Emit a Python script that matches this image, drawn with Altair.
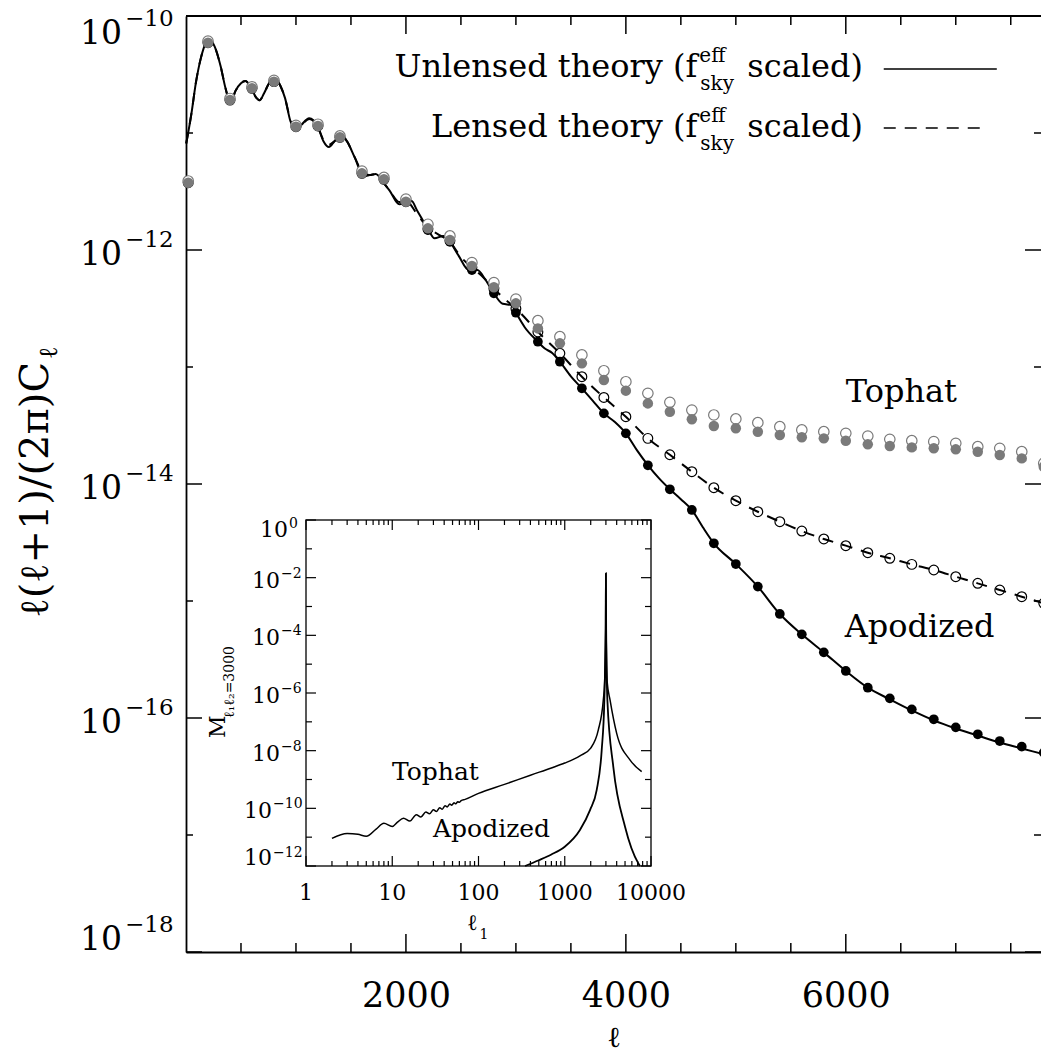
import altair as alt
import pandas as pd

FONT = "DejaVu Serif"
GRAY = "#7a7a7a"

# ---------------- main panel data (log10 of l(l+1)C_l/2pi) ----------------
theory_ell = [2, 50, 90, 135, 180, 215, 260, 315, 360, 405, 450, 500, 540, 590, 640, 670, 710, 760,
              815, 860, 900, 950, 1000, 1050, 1120, 1200, 1250, 1300, 1350, 1410, 1470, 1530, 1620,
              1670, 1725, 1800, 1850, 1940, 2000, 2050, 2100, 2200, 2260, 2340, 2400, 2480, 2570,
              2650, 2720, 2800, 2880, 2960, 3000, 3080, 3200, 3260, 3330, 3400, 3500, 3600, 3700,
              3800, 3900, 4000, 4100, 4200, 4300, 4400, 4500, 4600, 4700, 4800, 5000, 5200, 5400,
              5600, 5800, 6000, 6200, 6400, 6600, 6800, 7000, 7200, 7400, 7600, 7800]
unlensed_log = [-11.09, -10.83, -10.57, -10.36, -10.23, -10.20, -10.26, -10.43, -10.62, -10.745,
                -10.64, -10.575, -10.556, -10.61, -10.70, -10.72, -10.66, -10.57, -10.54, -10.60,
                -10.70, -10.90, -10.98, -10.93, -10.874, -10.95, -11.07, -11.12, -11.07, -11.017,
                -11.08, -11.20, -11.37, -11.36, -11.35, -11.43, -11.49, -11.61, -11.59, -11.58,
                -11.66, -11.82, -11.90, -11.88, -11.93, -12.05, -12.17, -12.17, -12.25, -12.37,
                -12.46, -12.47, -12.536, -12.66, -12.784, -12.84, -12.88, -12.955, -13.08, -13.182,
                -13.29, -13.396, -13.47, -13.567, -13.71, -13.838, -13.95, -14.045, -14.13, -14.222,
                -14.37, -14.507, -14.684, -14.877, -15.111, -15.285, -15.439, -15.598, -15.741,
                -15.84, -15.935, -16.02, -16.09, -16.15, -16.21, -16.26, -16.31]

lensed_ell = [2, 50, 90, 135, 180, 215, 260, 315, 360, 405, 450, 500, 540, 590, 640, 670, 710, 760,
              815, 860, 900, 950, 1000, 1050, 1120, 1200, 1250, 1300, 1350, 1410, 1470, 1530, 1620,
              1670, 1725, 1800, 1850, 1940, 2000, 2100, 2200, 2300, 2400, 2500, 2600, 2700, 2800,
              2900, 3000, 3200, 3400, 3600, 3800, 4000, 4200, 4400, 4600, 4800, 5000, 5200, 5400,
              5600, 5800, 6000, 6200, 6400, 6600, 6800, 7000, 7200, 7400, 7600, 7800]
lensed_log = [-11.09, -10.83, -10.57, -10.36, -10.23, -10.20, -10.26, -10.43, -10.62, -10.74,
              -10.64, -10.575, -10.556, -10.61, -10.70, -10.72, -10.66, -10.57, -10.54, -10.60,
              -10.70, -10.89, -10.96, -10.93, -10.88, -10.95, -11.06, -11.10, -11.07, -11.02,
              -11.08, -11.20, -11.35, -11.36, -11.35, -11.43, -11.49, -11.59, -11.58, -11.69,
              -11.81, -11.87, -11.93, -12.06, -12.15, -12.23, -12.33, -12.42, -12.50, -12.70,
              -12.883, -13.083, -13.26, -13.425, -13.61, -13.75, -13.895, -14.032, -14.143,
              -14.237, -14.322, -14.402, -14.470, -14.527, -14.587, -14.635, -14.687, -14.735,
              -14.792, -14.849, -14.906, -14.963, -15.02]

bin_ell = [20, 200, 400, 600, 800, 1000, 1200, 1400, 1600, 1800, 2000, 2200, 2400, 2600, 2800,
           3000, 3200, 3400, 3600, 3800, 4000, 4200, 4400, 4600, 4800, 5000, 5200, 5400, 5600,
           5800, 6000, 6200, 6400, 6600, 6800, 7000, 7200, 7400, 7600, 7800]
apod_unlensed_log = [-11.425, -10.228, -10.718, -10.618, -10.561, -10.946, -10.940, -11.037, -11.345,
                     -11.396, -11.587, -11.83, -11.93, -12.171, -12.37, -12.536, -12.784, -12.955,
                     -13.182, -13.396, -13.567, -13.84, -14.045, -14.222, -14.507, -14.684, -14.877,
                     -15.111, -15.285, -15.439, -15.598, -15.741, -15.832, -15.926, -16.011, -16.080,
                     -16.139, -16.197, -16.245, -16.296]
apod_lensed_log = [-11.425, -10.228, -10.718, -10.618, -10.561, -10.946, -10.940, -11.037, -11.345,
                   -11.396, -11.587, -11.82, -11.92, -12.15, -12.33, -12.50, -12.70, -12.883, -13.083,
                   -13.26, -13.425, -13.61, -13.75, -13.895, -14.032, -14.143, -14.237, -14.322,
                   -14.402, -14.470, -14.527, -14.587, -14.635, -14.687, -14.735, -14.792, -14.849,
                   -14.906, -14.963, -15.02]
tophat_unlensed_log = [-11.425, -10.228, -10.718, -10.618, -10.561, -10.946, -10.940, -11.037, -11.345,
                       -11.396, -11.587, -11.815, -11.915, -12.137, -12.319, -12.456, -12.670, -12.798,
                       -12.969, -13.111, -13.202, -13.311, -13.382, -13.447, -13.504, -13.524, -13.553,
                       -13.581, -13.601, -13.610, -13.630, -13.661, -13.675, -13.687, -13.695, -13.704,
                       -13.724, -13.752, -13.781, -13.852]
tophat_lensed_log = [-11.41, -10.215, -10.705, -10.605, -10.55, -10.935, -10.925, -11.025, -11.325,
                     -11.38, -11.565, -11.78, -11.88, -12.108, -12.279, -12.42, -12.604, -12.741,
                     -12.897, -13.032, -13.126, -13.225, -13.302, -13.368, -13.41, -13.444, -13.476,
                     -13.510, -13.538, -13.553, -13.567, -13.590, -13.618, -13.630, -13.638, -13.652,
                     -13.681, -13.695, -13.724, -13.823]

# ---------------- inset data (log10 of M_{l1, l2=3000}) ----------------
inset_tophat_l1 = [2, 3, 4, 5, 6.5, 8, 10, 11.5, 13.5, 16, 19, 21.5, 24.5, 27, 30, 32.5, 35.5, 38, 41,
                   43.5, 46.5, 49, 52, 54.5, 57.5, 60, 63, 70, 100, 200, 400, 700, 1000, 1500, 2000,
                   2450, 2800, 2900, 2980, 3000, 3020, 3100, 3350, 4000, 5700, 7800]
inset_tophat_log = [-11.04, -10.87, -10.90, -10.97, -10.72, -10.52, -10.63, -10.48, -10.34, -10.44,
                    -10.22, -10.30, -10.13, -10.19, -10.05, -10.11, -9.98, -10.03, -9.91, -9.95,
                    -9.85, -9.89, -9.81, -9.84, -9.77, -9.79, -9.73, -9.69, -9.48, -9.17, -8.85,
                    -8.60, -8.43, -8.18, -7.91, -7.28, -6.24, -5.6, -3.8, -1.85, -3.8, -5.6, -6.24,
                    -7.40, -8.32, -8.73]
inset_apod_l1 = [347, 500, 700, 1000, 1500, 1963, 2345, 2682, 2878, 2980, 3000, 3020, 3120, 3656,
                 5000, 7130, 7450]
inset_apod_log = [-12.0, -11.8, -11.6, -11.33, -10.75, -10.06, -9.37, -7.98, -6.24, -3.8, -1.85,
                  -3.8, -6.24, -8.56, -10.64, -11.91, -12.0]

# ---------------- ticks / labels ----------------
main_x_ticks = [2000, 4000, 6000]
main_x_minor = [500, 1000, 1500, 2500, 3000, 3500, 4500, 5000, 5500, 6500, 7000, 7500]
main_y_label_exp = [-18, -16, -14, -12, -10]
main_y_minor_exp = [-17, -15, -13, -11]
inset_x_ticks = [1, 10, 100, 1000, 10000]
inset_x_minor = [2, 3, 4, 5, 6, 7, 8, 9, 20, 30, 40, 50, 60, 70, 80, 90, 200, 300, 400, 500, 600,
                 700, 800, 900, 2000, 3000, 4000, 5000, 6000, 7000, 8000, 9000]
inset_y_label_exp = [-12, -10, -8, -6, -4, -2, 0]
inset_y_minor_exp = [-11, -9, -7, -5, -3, -1]

legend_rows = ["Unlensed theory (f", "Lensed theory (f"]


def p10(vals):
    return [10.0 ** v for v in vals]


def expstr(e):
    return ("\u2212" + str(-e)) if e < 0 else str(e)


# ---------------- scales / axes ----------------
XMAX = 7775
xs = alt.Scale(domain=[0, XMAX], nice=False, zero=False)
ys = alt.Scale(type="log", domain=[1e-18, 1e-10], nice=False)
x_axis = alt.Axis(values=main_x_ticks, format="d", labelFont=FONT, labelFontSize=35,
                  labelColor="black", labelPadding=26, labelFlush=False, ticks=False, grid=False,
                  domainColor="black", domainWidth=1.8, title="ℓ", titleFont=FONT,
                  titleFontSize=29, titleFontWeight="normal", titleColor="black",
                  titleBaseline="alphabetic", titleY=94)
y_axis = alt.Axis(labels=False, ticks=False, grid=False, domainColor="black", domainWidth=1.8,
                  title=None)


def MX(f):
    return alt.X(f, type="quantitative", scale=xs, axis=x_axis)


def MY(f):
    return alt.Y(f, type="quantitative", scale=ys, axis=y_axis)


def MXD(v):
    return alt.XDatum(v, type="quantitative", scale=xs, axis=x_axis)


def MYD(v):
    return alt.YDatum(v, type="quantitative", scale=ys, axis=y_axis)


xs_in = alt.Scale(type="log", domain=[1, 10000], range=[120, 465], nice=False)
ys_in = alt.Scale(type="log", domain=[1e-12, 1], range=[850, 504], nice=False)


def IX(f):
    return alt.X(f, type="quantitative", scale=xs_in, axis=None)


def IY(f):
    return alt.Y(f, type="quantitative", scale=ys_in, axis=None)


def IXD(v):
    return alt.XDatum(v, type="quantitative", scale=xs_in, axis=None)


def IYD(v):
    return alt.YDatum(v, type="quantitative", scale=ys_in, axis=None)


# ---------------- dataframes ----------------
unl_df = pd.DataFrame({"l": theory_ell, "v": p10(unlensed_log)})
len_df = pd.DataFrame({"l": lensed_ell, "v": p10(lensed_log)})
pts = pd.DataFrame({"l": bin_ell, "au": p10(apod_unlensed_log), "al": p10(apod_lensed_log),
                    "tu": p10(tophat_unlensed_log), "tl": p10(tophat_lensed_log)})

layers = []


def vticks(vals, size, at, off, X, YD, w=1.5):
    return alt.Chart(pd.DataFrame({"l": vals})).mark_tick(
        orient="vertical", size=size, thickness=w, yOffset=off, color="black", opacity=1
    ).encode(x=X("l"), y=YD(at))


def hticks(vals, size, at, off, XD, Y, w=1.5):
    return alt.Chart(pd.DataFrame({"v": vals})).mark_tick(
        orient="horizontal", size=size, thickness=w, xOffset=off, color="black", opacity=1
    ).encode(x=XD(at), y=Y("v"))


layers += [
    vticks(main_x_ticks, 18, 1e-18, -9, MX, MYD),
    vticks(main_x_minor, 9, 1e-18, -4.5, MX, MYD),
    vticks(main_x_ticks, 18, 1e-10, 9, MX, MYD),
    vticks(main_x_minor, 9, 1e-10, 4.5, MX, MYD),
    hticks(p10(main_y_label_exp), 16, 0, 8, MXD, MY),
    hticks(p10(main_y_minor_exp), 7, 0, 3.5, MXD, MY),
    hticks(p10(main_y_label_exp), 16, XMAX, -8, MXD, MY),
    hticks(p10(main_y_minor_exp), 7, XMAX, -3.5, MXD, MY),
]
layers.append(
    alt.Chart(pd.DataFrame({"l": [0], "l2": [XMAX], "v": [1e-10]})).mark_rule(
        color="black", strokeWidth=1.8).encode(x=MX("l"), x2="l2", y=MY("v"))
)

layers.append(alt.Chart(pts).mark_circle(size=95, fill="white", stroke="black", strokeWidth=1.2,
                                         opacity=1).encode(x=MX("l"), y=MY("al")))
layers.append(alt.Chart(unl_df).mark_line(color="black", strokeWidth=2, interpolate="monotone").encode(
    x=MX("l"), y=MY("v")))
layers.append(alt.Chart(len_df).mark_line(color="black", strokeWidth=2, strokeDash=[11, 9],
                                          interpolate="monotone").encode(x=MX("l"), y=MY("v")))
layers.append(alt.Chart(pts).mark_circle(size=95, color="black", opacity=1).encode(
    x=MX("l"), y=MY("au")))
layers.append(alt.Chart(pts).mark_circle(size=110, fill="white", stroke=GRAY, strokeWidth=1.2,
                                         opacity=1).encode(x=MX("l"), y=MY("tl")))
layers.append(alt.Chart(pts).mark_circle(size=110, color=GRAY, opacity=1).encode(
    x=MX("l"), y=MY("tu")))

layers.append(alt.Chart(pd.DataFrame({"l": [6345, 7373], "v": [3.52e-11, 3.52e-11]})).mark_line(
    color="black", strokeWidth=1.6).encode(x=MX("l"), y=MY("v")))
layers.append(alt.Chart(pd.DataFrame({"l": [6345, 7280], "v": [1.104e-11, 1.104e-11]})).mark_line(
    color="black", strokeWidth=1.6, strokeDash=[12, 9]).encode(x=MX("l"), y=MY("v")))


def mtext(df, size, align, dx=0, dy=0, angle=0, X=MX, Y=MY):
    return alt.Chart(df).mark_text(font=FONT, fontSize=size, align=align, baseline="alphabetic",
                                   dx=dx, dy=dy, angle=angle, color="black").encode(
        x=X("l"), y=Y("v"), text="t:N")


leg_df = pd.DataFrame({"l": [4650, 4650], "v": [3.0e-11, 9.25e-12], "t": legend_rows})
sup_df = pd.DataFrame({"l": [4650, 4650], "v": [3.0e-11, 9.25e-12], "t": ["eff", "eff"]})
sub_df = pd.DataFrame({"l": [4650, 4650], "v": [3.0e-11, 9.25e-12], "t": ["sky", "sky"]})
end_df = pd.DataFrame({"l": [4650, 4650], "v": [3.0e-11, 9.25e-12], "t": ["scaled)", "scaled)"]})
layers += [
    mtext(leg_df, 32, "right"),
    mtext(sup_df, 20, "left", dx=2, dy=-15),
    mtext(sub_df, 20, "left", dx=3, dy=13),
    mtext(end_df, 32, "left", dx=50),
]
layers.append(mtext(pd.DataFrame({"l": [6000, 5990], "v": [5.02e-14, 4.92e-16],
                                  "t": ["Tophat", "Apodized"]}), 32, "left"))

mid = [e for e in main_y_label_exp if e not in (-18, -10)]
for exps, d10, dex in [(mid, 15, -3), ([-10], 28, 10), ([-18], -2, -20)]:
    layers.append(mtext(pd.DataFrame({"l": [0] * len(exps), "v": p10(exps), "t": ["10"] * len(exps)}),
                        33, "right", dx=-64, dy=d10))
    layers.append(mtext(pd.DataFrame({"l": [0] * len(exps), "v": p10(exps),
                                      "t": [expstr(e) for e in exps]}), 23, "left", dx=-61, dy=dex))

layers.append(mtext(pd.DataFrame({"l": [0], "v": [1e-14], "t": ["ℓ(ℓ+1)/(2π)C"]}), 40, "right",
                    dx=122, dy=-138, angle=270))
layers.append(mtext(pd.DataFrame({"l": [0], "v": [1e-14], "t": ["ℓ"]}), 26, "left",
                    dx=125, dy=-129, angle=270))

main = alt.layer(*layers)

# ---------------- inset ----------------
ins = []
ins.append(alt.Chart(pd.DataFrame({"a": [1], "b": [10000], "c": [1e-12], "d": [1]})).mark_rect(
    fill="white", stroke="#222222", strokeWidth=1.5).encode(x=IX("a"), x2="b", y=IY("c"), y2="d"))
ins += [
    vticks(inset_x_ticks, 10, 1e-12, -5, IX, IYD, 1.2),
    vticks(inset_x_minor, 5, 1e-12, -2.5, IX, IYD, 1.2),
    vticks(inset_x_ticks, 10, 1, 5, IX, IYD, 1.2),
    vticks(inset_x_minor, 5, 1, 2.5, IX, IYD, 1.2),
    hticks(p10(inset_y_label_exp), 10, 1, 5, IXD, IY, 1.2),
    hticks(p10(inset_y_minor_exp), 6, 1, 3, IXD, IY, 1.2),
    hticks(p10(inset_y_label_exp), 10, 10000, -5, IXD, IY, 1.2),
    hticks(p10(inset_y_minor_exp), 6, 10000, -3, IXD, IY, 1.2),
]
ins.append(alt.Chart(pd.DataFrame({"l": inset_tophat_l1, "v": p10(inset_tophat_log)})).mark_line(
    color="black", strokeWidth=1.5, interpolate="monotone").encode(x=IX("l"), y=IY("v")))
ins.append(alt.Chart(pd.DataFrame({"l": inset_apod_l1, "v": p10(inset_apod_log)})).mark_line(
    color="black", strokeWidth=1.8, interpolate="monotone").encode(x=IX("l"), y=IY("v")))

ins.append(mtext(pd.DataFrame({"l": inset_x_ticks, "v": [1e-12] * 5,
                               "t": [str(v) for v in inset_x_ticks]}), 22, "center", dy=34,
                 X=IX, Y=IY))
# y labels: groups by exponent width so the whole label ends near the frame
one_digit = [e for e in inset_y_label_exp if -10 < e < 0 and e not in (0,)]
one_digit = [e for e in one_digit if e != -12]
two_digit = [e for e in inset_y_label_exp if e <= -10]
groups = [
    ([e for e in one_digit], -26, 10, 0),
    ([e for e in two_digit if e != -12], -34, 10, 0),
    ([-12], -34, -1, -9),
    ([0], -18, 17, 8),
]
for exps, dxx, d10, dex in groups:
    if not exps:
        continue
    ins.append(mtext(pd.DataFrame({"l": [1] * len(exps), "v": p10(exps), "t": ["10"] * len(exps)}),
                     22, "right", dx=dxx, dy=d10, X=IX, Y=IY))
    ins.append(mtext(pd.DataFrame({"l": [1] * len(exps), "v": p10(exps),
                                   "t": [expstr(e) for e in exps]}), 14, "left", dx=dxx + 1, dy=dex,
                     X=IX, Y=IY))
ins.append(mtext(pd.DataFrame({"l": [9.94, 29.7], "v": [10 ** -9.02, 1e-11],
                               "t": ["Tophat", "Apodized"]}), 25, "left", X=IX, Y=IY))
ins.append(mtext(pd.DataFrame({"l": [100], "v": [1e-12], "t": ["ℓ"]}), 22, "right", dx=-1, dy=64,
                 X=IX, Y=IY))
ins.append(mtext(pd.DataFrame({"l": [100], "v": [1e-12], "t": ["1"]}), 14, "left", dx=1, dy=73,
                 X=IX, Y=IY))
ins.append(mtext(pd.DataFrame({"l": [1], "v": [1e-6], "t": ["M"]}), 22, "left", dx=-45, dy=-81,
                 angle=270, X=IX, Y=IY))
ins.append(mtext(pd.DataFrame({"l": [1], "v": [1e-6], "t": ["ℓ₁ℓ₂=3000"]}), 14, "left", dx=-25,
                 dy=-72, angle=270, X=IX, Y=IY))

inset = alt.layer(*ins)

chart = alt.layer(main, inset).resolve_scale(x="independent", y="independent").properties(
    width=855, height=936,
    padding={"left": 186, "top": 16, "right": 0, "bottom": 103},
    autosize=alt.AutoSizeParams(type="none"),
    background="white",
).configure_view(stroke=None)

chart.save("out.html", embed_options={"renderer": "svg", "actions": False})
